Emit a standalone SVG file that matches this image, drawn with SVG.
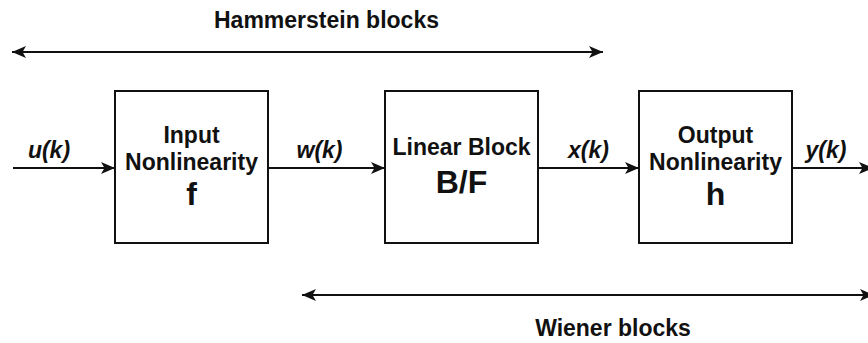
<svg xmlns="http://www.w3.org/2000/svg" width="868" height="343" viewBox="0 0 868 343">
<style>
  .box { fill: #ffffff; stroke: #111; stroke-width: 2; }
  .line { fill: none; stroke: #111; stroke-width: 2; }
  .t { font-family: "Liberation Sans", Arial, sans-serif; font-weight: bold; fill: #111; text-anchor: middle; }
  .m { font-size: 23px; }
  .big { font-size: 32px; }
  .lbl { font-family: "Liberation Sans", Arial, sans-serif; font-weight: bold; font-style: italic; font-size: 23px; fill: #111; text-anchor: middle; }
</style>
<defs>
  <marker id="arr" viewBox="0 0 14 14" refX="14" refY="7" markerWidth="14" markerHeight="14" markerUnits="userSpaceOnUse" orient="auto-start-reverse">
    <path d="M0,1 L14,7 L0,13 L3.5,7 Z" fill="#111"/>
  </marker>
</defs>
<rect width="868" height="343" fill="#ffffff"/>
<g id="connectors">
  <line class="line" x1="12" y1="52" x2="603" y2="52" marker-start="url(#arr)" marker-end="url(#arr)"/>
  <line class="line" x1="302" y1="295" x2="874" y2="295" marker-start="url(#arr)" marker-end="url(#arr)"/>
  <line class="line" x1="13" y1="168" x2="115" y2="168" marker-end="url(#arr)"/>
  <line class="line" x1="268" y1="168" x2="385" y2="168" marker-end="url(#arr)"/>
  <line class="line" x1="538" y1="168" x2="639" y2="168" marker-end="url(#arr)"/>
  <line class="line" x1="792" y1="168" x2="873" y2="168" marker-end="url(#arr)"/>
  <text class="t m" x="326.5" y="28">Hammerstein blocks</text>
  <text class="t m" x="613" y="336">Wiener blocks</text>
  <text class="lbl" x="49" y="158">u(k)</text>
  <text class="lbl" x="319.5" y="158">w(k)</text>
  <text class="lbl" x="588.5" y="158">x(k)</text>
  <text class="lbl" x="826" y="158">y(k)</text>
</g>
<g id="input-nonlinearity">
  <rect class="box" x="115" y="91" width="153" height="152"/>
  <text class="t m" x="191.5" y="143">Input</text>
  <text class="t m" x="191.5" y="170">Nonlinearity</text>
  <text class="t big" x="191.5" y="205">f</text>
</g>
<g id="linear-block">
  <rect class="box" x="385" y="91" width="153" height="152"/>
  <text class="t m" x="461.5" y="155">Linear Block</text>
  <text class="t big" x="461.5" y="193">B/F</text>
</g>
<g id="output-nonlinearity">
  <rect class="box" x="639" y="91" width="153" height="152"/>
  <text class="t m" x="715.5" y="143">Output</text>
  <text class="t m" x="715.5" y="170">Nonlinearity</text>
  <text class="t big" x="715.5" y="205">h</text>
</g>
</svg>
